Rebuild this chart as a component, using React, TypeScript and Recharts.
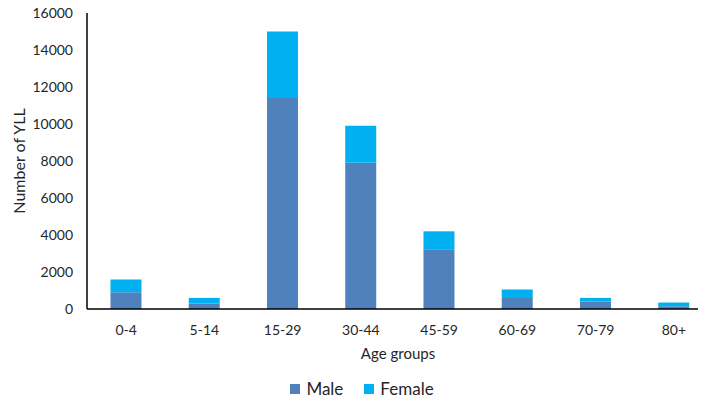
import { BarChart, Bar, XAxis, YAxis, Legend } from 'recharts';

const ageGroups = ['0-4', '5-14', '15-29', '30-44', '45-59', '60-69', '70-79', '80+'];
const maleYll = [900, 300, 11400, 7900, 3200, 600, 400, 150];
const femaleYll = [700, 300, 3600, 2000, 1000, 450, 200, 200];
const yTicks = [0, 2000, 4000, 6000, 8000, 10000, 12000, 14000, 16000];
const seriesNames = ['Male', 'Female'];

const MALE = '#4F81BD';
const FEMALE = '#00B0F0';
const FONT = 'Lato, "Open Sans", sans-serif';
const TEXT = '#262626';

const data = ageGroups.map((group, i) => ({
  group,
  Male: maleYll[i],
  Female: femaleYll[i],
}));

const YTitle = ({ viewBox }: any) => {
  const cx = viewBox.x + 18;
  const cy = viewBox.y + viewBox.height / 2;
  return (
    <text x={cx} y={cy} transform={`rotate(-90, ${cx}, ${cy})`} textAnchor="middle" dominantBaseline="central"
      fill={TEXT} fontSize={16} fontFamily={FONT}>
      Number of YLL
    </text>
  );
};

const XTitle = ({ viewBox }: any) => (
  <text x={398} y={viewBox.y + 44} textAnchor="middle" dominantBaseline="central" fill={TEXT} fontSize={15} fontFamily={FONT}>
    Age groups
  </text>
);

// legend in Male, Female order with small square swatches
const LegendBox = () => (
  <div style={{ display: 'flex', justifyContent: 'center', alignItems: 'center', height: 22, gap: 21, paddingLeft: 18 }}>
    {seriesNames.map((name) => (
      <div key={name} style={{ display: 'flex', alignItems: 'center', gap: 6 }}>
        <span style={{ width: 10, height: 10, background: name === 'Male' ? MALE : FEMALE, display: 'inline-block' }} />
        <span style={{ fontFamily: FONT, fontSize: 17, color: TEXT, lineHeight: '22px' }}>{name}</span>
      </div>
    ))}
  </div>
);

export default function App() {
  return (
    <div style={{ margin: -8, width: 706, height: 404, overflow: 'hidden', background: '#fff' }}>
      <BarChart width={713} height={404} data={data} margin={{ top: 13, right: 0, bottom: 0, left: 0 }} barCategoryGap="30%">
        <XAxis dataKey="group" axisLine={{ stroke: '#000', strokeWidth: 1.5 }} tickLine={false} tickSize={0} tickMargin={16}
          height={73} tick={{ fill: TEXT, fontSize: 14, fontFamily: FONT }} label={<XTitle />} />
        <YAxis width={87} domain={[0, 16000]} ticks={yTicks} axisLine={{ stroke: '#000', strokeWidth: 1.5 }} tickLine={false}
          tickSize={0} tickMargin={14} tick={{ fill: TEXT, fontSize: 14, fontFamily: FONT }} label={<YTitle />} />
        <Legend verticalAlign="bottom" content={<LegendBox />} wrapperStyle={{ width: 706, left: 0, top: 378, height: 22 }} />
        <Bar dataKey="Male" stackId="yll" fill={MALE} isAnimationActive={false} />
        <Bar dataKey="Female" stackId="yll" fill={FEMALE} isAnimationActive={false} />
      </BarChart>
    </div>
  );
}
